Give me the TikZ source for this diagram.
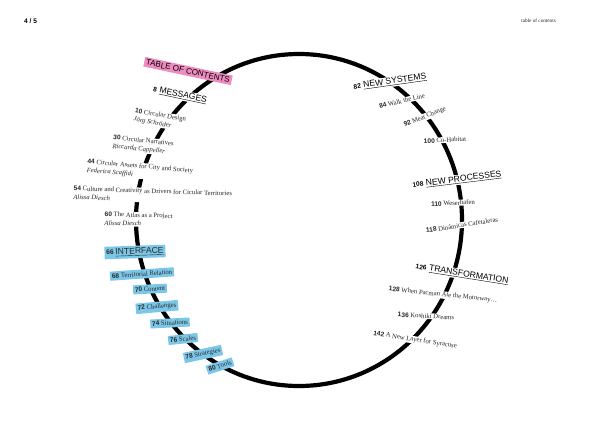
\documentclass[tikz,border=0pt]{standalone}
\usepackage{fontspec}
\setmainfont{Liberation Serif}
\setsansfont{Liberation Sans}
\definecolor{tocpink}{RGB}{238,140,192}
\definecolor{ifblue}{RGB}{124,199,232}
\definecolor{txt}{RGB}{40,40,40}
\newcommand{\pnum}[1]{{\sffamily\bfseries\fontsize{6.6}{7}\selectfont #1}}
\newcommand{\ptitle}[1]{{\sffamily\fontsize{8.6}{9}\selectfont\underline{#1}}}
\begin{document}
\begin{tikzpicture}[x=1pt,y=-1pt,
  entry/.style={fill=white,inner sep=0.6pt,align=left,text=txt,font=\fontsize{6.7}{8.6}\selectfont},
  sect/.style={fill=white,inner sep=1pt,text=black},
  tocbox/.style={fill=tocpink,inner sep=2pt,font=\sffamily\fontsize{8.1}{8.5}\selectfont},
  ifbox/.style={fill=ifblue,inner xsep=1.8pt,inner ysep=2.2pt,text=txt,font=\fontsize{6.7}{7.2}\selectfont},
]
\useasboundingbox[fill=white] (0,0) rectangle (600,440);
% header
\node[font=\sffamily\bfseries\fontsize{6.6}{7}\selectfont,anchor=west,inner sep=0pt] (pg) at (24,21) {4 / 5};
\node[font=\fontsize{5.2}{6}\selectfont,anchor=east,text=txt,inner sep=0pt] (hd) at (556,21) {table of contents};
% ring
\draw[line width=4.2pt,line cap=round] (299,220) ellipse [x radius=163pt, y radius=166pt];
% left side
\node[tocbox,rotate=-12] (toc) at (188,71) {TABLE OF CONTENTS};
\node[sect,rotate=-12] (msg) at (180,95) {\pnum{8} \ptitle{MESSAGES}};
\node[entry,anchor=north west,rotate=-10] (e10) at (135,107) {\pnum{10} Circular Design\\\textit{Jörg Schröder}};
\node[entry,anchor=north west,rotate=-6] (e30) at (113,134) {\pnum{30} Circular Narratives\\\textit{Riccarda Cappeller}};
\node[entry,anchor=north west,rotate=-5] (e44) at (87,158) {\pnum{44} Circular Assets for City and Society\\\textit{Federica Scaffidi}};
\node[entry,anchor=north west,rotate=-2] (e54) at (73,185) {\pnum{54} Culture and Creativity as Drivers for Cicular Territories\\\textit{Alissa Diesch}};
\node[entry,anchor=north west,rotate=-1.5] (e60) at (104,211) {\pnum{60} The Atlas as a Project\\\textit{Alissa Diesch}};
\node[ifbox,rotate=2] (if) at (135,252) {\pnum{66} {\sffamily\fontsize{8.6}{9}\selectfont\underline{INTERFACE}}};
\node[ifbox,rotate=4] (e68) at (142,274) {\pnum{68} Territorial Relation};
\node[ifbox,rotate=3] (e70) at (150,289) {\pnum{70} Content};
\node[ifbox,rotate=5] (e72) at (157,307) {\pnum{72} Challenges};
\node[ifbox,rotate=3] (e74) at (170,323) {\pnum{74} Situations};
\node[ifbox,rotate=6] (e76) at (183,339) {\pnum{76} Scales};
\node[ifbox,rotate=12] (e78) at (203,354) {\pnum{78} Strategies};
\node[ifbox,rotate=18] (e80) at (220,366) {\pnum{80} Tools};
% right side
\node[sect,rotate=8] (ns) at (390,82) {\pnum{82} \ptitle{NEW SYSTEMS}};
\node[entry,rotate=14] (e84) at (402,101) {\pnum{84} Walk the Line};
\node[entry,rotate=22] (e92) at (425,117) {\pnum{92} Meat Change};
\node[entry,rotate=3] (e100) at (445,140) {\pnum{100} Co-Habitat};
\node[sect,rotate=7] (np) at (457,180) {\pnum{108} \ptitle{NEW PROCESSES}};
\node[entry,rotate=3] (e110) at (453,203) {\pnum{110} Weserhafen};
\node[entry,rotate=9] (e118) at (462,225) {\pnum{118} Dinámicas Cafetaleras};
\node[sect,rotate=-9] (tr) at (462,274) {\pnum{126} \ptitle{TRANSFORMATION}};
\node[entry,rotate=-6] (e128) at (443,295) {\pnum{128} When Pacman Ate the Motorway…};
\node[entry,rotate=-3] (e136) at (426,316) {\pnum{136} Koshiki Dreams};
\node[entry,rotate=-9] (e142) at (415,340) {\pnum{142} A New Layer for Syracuse};
\end{tikzpicture}
\end{document}
